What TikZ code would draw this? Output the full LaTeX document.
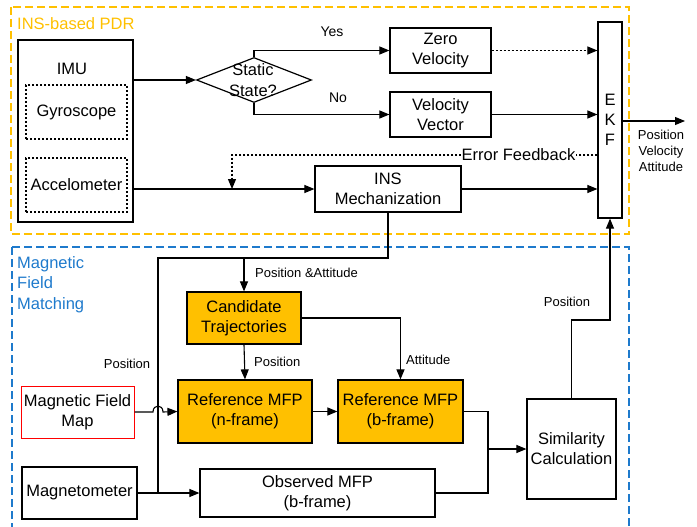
\documentclass[tikz,border=0pt]{standalone}
\usepackage{fontspec}
\setmainfont{Liberation Sans}
\usetikzlibrary{arrows.meta,shapes.geometric}
\definecolor{ora}{RGB}{255,192,0}
\definecolor{blu}{RGB}{30,122,204}
\begin{document}
\begin{tikzpicture}[x=1pt,y=-1pt,
  every node/.style={font=\fontsize{16.5}{20}\selectfont, align=center, inner sep=0pt},
  box/.style={draw=black, line width=1.2pt, rectangle},
  dotbox/.style={draw=black, line width=1.1pt, dash pattern=on 2pt off 2pt, rectangle},
  obox/.style={box, fill=ora},
  lbl/.style={font=\fontsize{13}{16}\selectfont},
  conn/.style={line width=1.1pt},
  arr/.style={conn, -{Triangle[length=10pt,width=8pt]}},
  dotarr/.style={arr, dash pattern=on 2pt off 2pt},
  area/.style={line width=1.1pt, dash pattern=on 8pt off 4pt}
]
\useasboundingbox (0,0) rectangle (697,527);
% areas
\draw[area, draw=ora] (11,7) rectangle (629,234);
\draw[area, draw=blu] (12,247) -- (629,247) -- (629,530);
\draw[area, draw=blu] (12,247) -- (12,530);
\node[text=ora, anchor=west] (pdrlbl) at (17,24) {INS-based PDR};
\node[text=blu, anchor=north west, align=left] (mfmlbl) at (17,256) {Magnetic\\[0.5pt]Field\\[0.5pt]Matching};

% nodes
\node[box, minimum width=115, minimum height=182] (imu) at (75.5,131) {};
\node (imulbl) at (72,69) {IMU};
\node[dotbox, minimum width=101, minimum height=54] (gyro) at (76.5,112) {Gyroscope};
\node[dotbox, minimum width=101, minimum height=54] (accel) at (76.5,185) {Accelometer};
\node[diamond, draw=black, line width=1.2pt, minimum width=115, minimum height=45] (static) at (254,80) {};
\node (stlbl) at (253,80) {Static\\[1pt]State?};
\node[box, minimum width=101, minimum height=45] (zero) at (440.5,50.5) {Zero\\Velocity};
\node[box, minimum width=101, minimum height=45] (velvec) at (440.5,114.5) {Velocity\\Vector};
\node[box, minimum width=24, minimum height=196] (ekf) at (610,120) {E\\K\\F};
\node[box, minimum width=146, minimum height=46] (ins) at (388,189) {INS\\Mechanization};
\node[obox, minimum width=114, minimum height=52] (ct) at (244,318) {Candidate\\Trajectories};
\node[obox, minimum width=134, minimum height=63] (refn) at (245,411.5) {Reference MFP\\(n-frame)};
\node[obox, minimum width=125, minimum height=63] (refb) at (400.5,411.5) {Reference MFP\\(b-frame)};
\node[draw=red, line width=1pt, minimum width=113, minimum height=52] (mfm) at (77.5,412) {Magnetic Field\\Map};
\node[box, minimum width=115, minimum height=52] (mag) at (79.5,493) {Magnetometer};
\node[box, minimum width=235, minimum height=48] (obs) at (317.5,493) {Observed MFP\\(b-frame)};
\node[box, minimum width=89, minimum height=100] (sim) at (571.5,449) {Similarity\\Calculation};

% labels
\node[lbl, font=\fontsize{14}{16}\selectfont] (yeslbl) at (332,32) {Yes};
\node[lbl, font=\fontsize{14}{16}\selectfont] (nolbl) at (338,98) {No};
\node[lbl] (outlbl) at (661,151) {Position\\Velocity\\Attitude};
\node[lbl, anchor=west] (palbl) at (255,273) {Position \&Attitude};
\node[lbl] (plbl1) at (127,364) {Position};
\node[lbl, anchor=west] (plbl2) at (254,362) {Position};
\node[lbl, anchor=west] (attlbl) at (406,360) {Attitude};
\node[lbl] (plbl3) at (567,302) {Position};

% coordinates
\coordinate (fbturn) at (232,155);
\coordinate (out) at (685,121);
\coordinate (j1) at (244,258);
\coordinate (j0) at (158,258);
\coordinate (j2) at (158,493);
\coordinate (m) at (488,449);
\coordinate (pturn) at (571.5,320);
\coordinate (hop1) at (153,412);
\coordinate (hop2) at (163,412);

% connectors
\draw[arr] (imu.east |- static.west) -- (static.west);
\draw[arr] (static.north) |- (zero.west);
\draw[arr] (static.south) |- (velvec.west);
\draw[dotarr] (zero.east) -- (zero.east -| ekf.west);
\draw[arr] (velvec.east) -- (velvec.east -| ekf.west);
\draw[arr] (ins.west -| imu.east) -- (ins.west);
\draw[dotarr] (ekf.west |- fbturn) -- node[pos=0.216, fill=white, inner xsep=1pt, inner ysep=2pt] (fblbl) {Error Feedback} (fbturn) -- (fbturn |- ins.west);
\draw[arr] (ins.east) -- (ins.east -| ekf.west);
\draw[arr] (ekf.east |- out) -- (out);
\draw[conn] (ins.south) |- (j0) -- (j2);
\draw[arr] (j1) -- (ct.north);
\draw[arr] (mag.east) -- (obs.west);
\draw[arr] (ct.south) -- (refn.north);
\draw[arr] (ct.east) -| (refb.north);
\draw[arr] (mfm.east) -- (hop1) .. controls (153,404) and (163,404) .. (hop2) -- (refn.west);
\draw[arr] (refn.east) -- (refb.west);
\draw[conn] (refb.east) -| (m);
\draw[conn] (obs.east) -| (m);
\draw[arr] (m) -- (sim.west);
\draw[arr] (sim.north) -- (pturn) -| (ekf.south);
\end{tikzpicture}
\end{document}
